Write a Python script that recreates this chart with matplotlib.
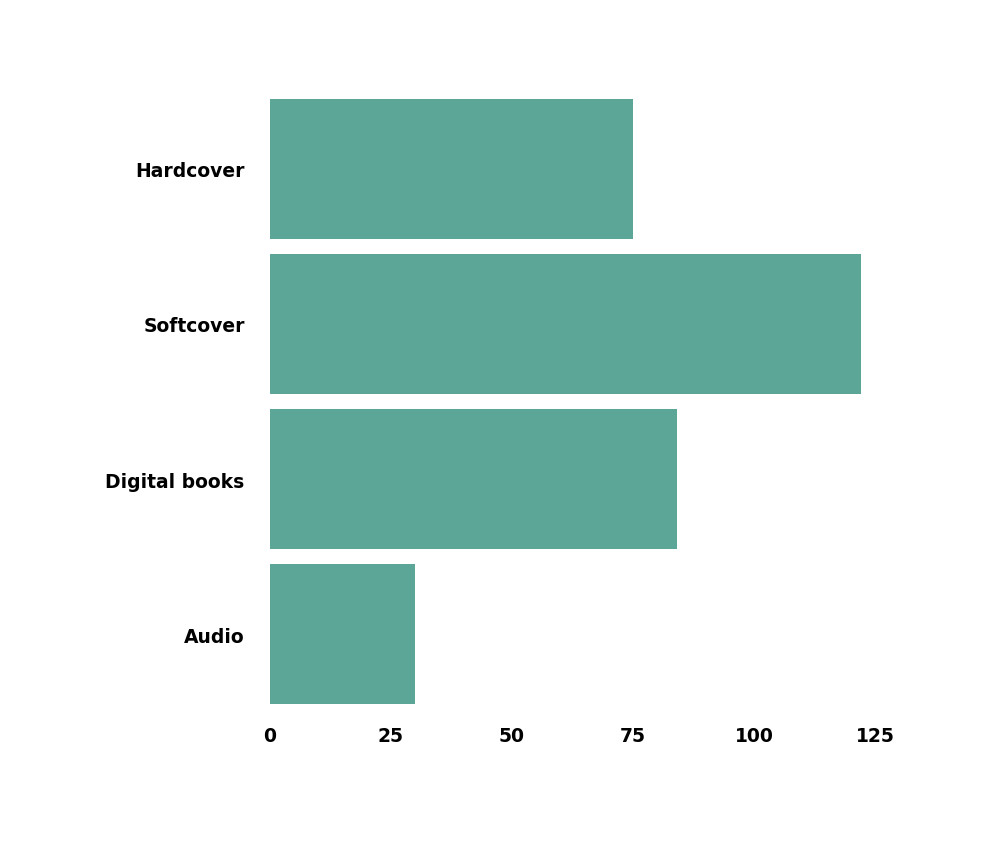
import matplotlib.pyplot as plt

categories = ["Hardcover", "Softcover", "Digital books", "Audio"]
values = [75, 122, 84, 30]

fig = plt.figure(figsize=(9.95, 8.45), dpi=100)
ax = fig.add_axes([0.271, 0.1565, 0.633, 0.7345])

ax.barh(categories, values, height=0.9, color="#5ca698")
ax.set_ylim(3.5, -0.5)
ax.set_xlim(0, 130)
ax.set_xticks([0, 25, 50, 75, 100, 125])

for s in ax.spines.values():
    s.set_visible(False)
ax.tick_params(length=0, labelsize=13.5)
ax.tick_params(axis="y", pad=18)
ax.tick_params(axis="x", pad=10)
for lab in ax.get_xticklabels() + ax.get_yticklabels():
    lab.set_fontweight("bold")

fig.savefig("out.png")
